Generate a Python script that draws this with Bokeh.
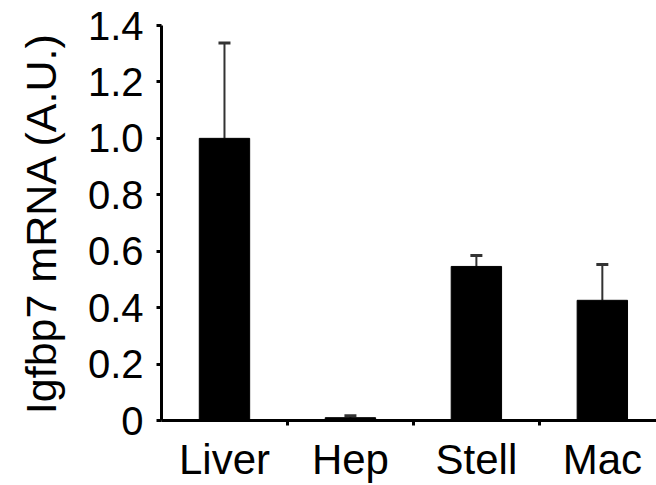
from bokeh.plotting import figure
from bokeh.models import Range1d, FixedTicker, NumeralTickFormatter, ColumnDataSource, Whisker, TeeHead
from bokeh.embed import file_html
from bokeh.resources import INLINE

categories = ["Liver", "Hep", "Stell", "Mac"]
values = [1.0, 0.01, 0.546, 0.426]
err_upper = [1.338, 0.017, 0.585, 0.553]
y_ticks = [0, 0.2, 0.4, 0.6, 0.8, 1.0, 1.2, 1.4]

xpos = [i + 0.5 for i in range(len(categories))]
src = ColumnDataSource(dict(x=xpos, top=values, upper=err_upper, cat=categories))

FONT = "Liberation Sans"
p = figure(width=656, height=485, output_backend="svg", toolbar_location=None,
           x_range=Range1d(0, 3.93), y_range=Range1d(0, 1.4),
           min_border_left=161, min_border_top=25, min_border_bottom=62, min_border_right=0)
p.outline_line_color = None
p.xgrid.grid_line_color = None
p.ygrid.grid_line_color = None
p.background_fill_color = "white"
p.border_fill_color = "white"

p.vbar(x="x", top="top", width=0.4, bottom=0, source=src,
       fill_color="black", line_color="black", line_width=1)

w = Whisker(base="x", lower="top", upper="upper", source=src, dimension="height",
            line_color="#333333", line_width=2,
            lower_head=None, upper_head=TeeHead(size=12, line_color="#333333", line_width=3))
p.add_layout(w)

# y axis
ya = p.yaxis[0]
ya.ticker = FixedTicker(ticks=y_ticks, minor_ticks=[])
ya.formatter = NumeralTickFormatter(format="0.0")
ya.major_label_overrides = {0: "0"}
ya.axis_line_width = 3
ya.axis_line_color = "black"
ya.major_tick_line_width = 3
ya.major_tick_in = 0
ya.major_tick_out = 5
ya.minor_tick_line_color = None
ya.major_label_text_font = FONT
ya.major_label_text_font_size = "40px"
ya.major_label_text_color = "black"
ya.major_label_standoff = 13
ya.axis_label = "Igfbp7 mRNA (A.U.)"
ya.axis_label_text_font = FONT
ya.axis_label_text_font_size = "43px"
ya.axis_label_text_font_style = "normal"
ya.axis_label_text_color = "black"
ya.axis_label_standoff = 20

# x axis
xa = p.xaxis[0]
xa.ticker = FixedTicker(ticks=xpos, minor_ticks=[1, 2, 3])
xa.major_label_overrides = {x: c for x, c in zip(xpos, categories)}
xa.axis_line_width = 3
xa.axis_line_color = "black"
xa.major_tick_line_color = None
xa.major_tick_in = 0
xa.major_tick_out = 0
xa.minor_tick_line_width = 3
xa.minor_tick_line_color = "black"
xa.minor_tick_in = 0
xa.minor_tick_out = 5
xa.major_label_text_font = FONT
xa.major_label_text_font_size = "42px"
xa.major_label_text_color = "black"
xa.major_label_standoff = 10

open("out.html", "w").write(file_html(p, INLINE))
